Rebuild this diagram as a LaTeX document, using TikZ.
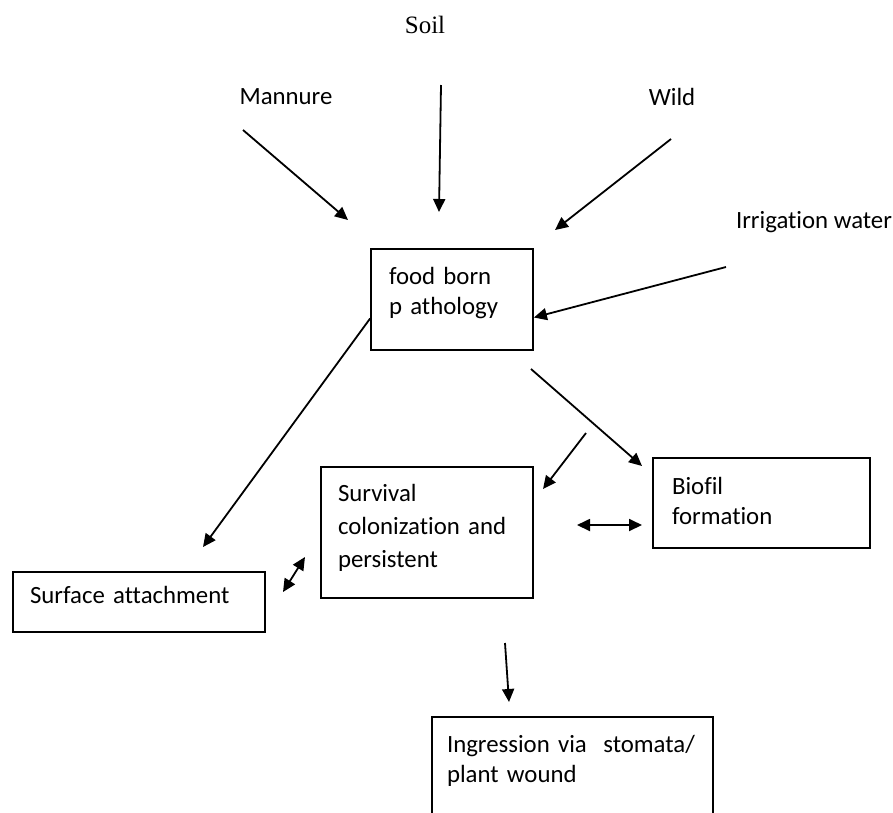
\documentclass[tikz,border=0pt]{standalone}
\usepackage{fontspec}
\setmainfont{Carlito}[Ligatures=NoCommon]
\newfontfamily\soilfont{Liberation Serif}
\usetikzlibrary{arrows.meta}

\begin{document}
\begin{tikzpicture}[x=1pt,y=-1pt,line width=1.8pt,
    >={Triangle[length=13pt,width=12pt]},
    txt/.style={font=\fontsize{24.8}{30}\selectfont},
    box/.style={draw,rectangle,align=left,txt,text height=17pt}]

      \useasboundingbox (0,0) rectangle (893,812);

      \begin{scope}[every node/.style={txt}]
        \node (soil) at (425,25) {\soilfont\fontsize{25}{30}\selectfont Soil};
        \node (manure) at (286,97) {Mannure};
        \node (wild) at (672,97) {Wild};
        \node (irrigation) at (814,222) {Irrigation water};
      \end{scope}

      \begin{scope}[every node/.style={box}]
        \node[text width=126pt,minimum height=101pt,inner xsep=18pt,text depth=48pt] (food) at (452,299.5) {food born\\p athology};
        \node[text width=178pt,minimum height=131pt,inner xsep=17pt,text depth=80pt,font=\fontsize{24.8}{33}\selectfont] (survival) at (427,532.5) {Survival\\colonization and\\persistent};
        \node[text width=179pt,minimum height=90pt,inner xsep=19pt,text depth=35pt] (biofil) at (761.5,503) {Biofil\\formation};
        \node[text width=218pt,minimum height=60pt,inner xsep=17pt,text depth=14pt] (surface) at (139,602) {Surface attachment};
        \node[text width=251pt,minimum height=99pt,inner xsep=15pt,text depth=46pt] (ingression) at (572.5,766.5) {Ingression via\ \ stomata/\\plant wound};
      \end{scope}

      % free ends of the arrows
      \coordinate (m0) at (243,130);
      \coordinate (m1) at (348,220);
      \coordinate (s0) at (441,85);
      \coordinate (s1) at (439,212);
      \coordinate (w0) at (671,139);
      \coordinate (w1) at (555,230);
      \coordinate (i0) at (726,267);
      \coordinate (f1) at (203,547);
      \coordinate (b0) at (531,369);
      \coordinate (b1) at (642,466);
      \coordinate (c0) at (586,433);
      \coordinate (c1) at (543,489);
      \coordinate (d0) at (577,525);
      \coordinate (d1) at (642,525);
      \coordinate (e0) at (283,592);
      \coordinate (e1) at (305,557);
      \coordinate (g0) at (505,643);
      \coordinate (g1) at (509,702);

      \begin{scope}[every edge/.style={draw,->}]
        \path (m0) edge (m1);
        \path (s0) edge (s1);
        \path (w0) edge (w1);
        \path (i0) edge ([yshift=-18pt]food.east);
        \path ([yshift=-19pt]food.west) edge (f1);
        \path (b0) edge (b1);
        \path (c0) edge (c1);
        \path (g0) edge (g1);
      \end{scope}

      \begin{scope}[every edge/.style={draw,<->}]
        \path (d0) edge (d1);
        \path (e0) edge (e1);
      \end{scope}

    \end{tikzpicture}
\end{document}
